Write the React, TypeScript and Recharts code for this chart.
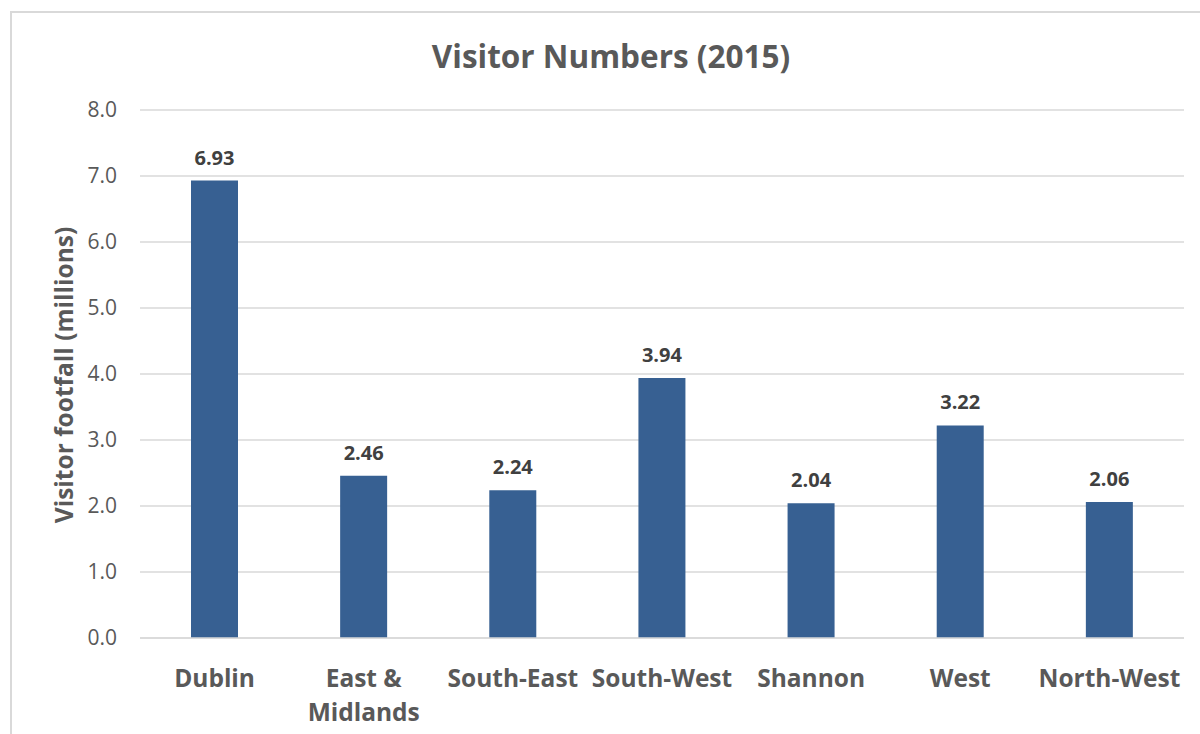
import { BarChart, Bar, XAxis, YAxis, CartesianGrid, LabelList } from "recharts";

const regions = ["Dublin", "East & Midlands", "South-East", "South-West", "Shannon", "West", "North-West"];
const visitors = [6.93, 2.46, 2.24, 3.94, 2.04, 3.22, 2.06];
const yTicks = [0, 1, 2, 3, 4, 5, 6, 7, 8];

// multi-line labels for the category axis
const tickLines: Record<string, string[]> = {
  "East & Midlands": ["East &", "Midlands"],
};

const data = regions.map((region, i) => ({ region, value: visitors[i] }));

const FONT = "'Open Sans', sans-serif";

function RegionTick(props: any) {
  const { x, y, payload } = props;
  const lines = tickLines[payload.value] || [payload.value];
  return (
    <text x={x} y={y} textAnchor="middle" fill="#595959" fontSize={24.5} fontWeight={700} fontFamily={FONT}>
      {lines.map((line, i) => (
        <tspan key={i} x={x} dy={i === 0 ? 41 : 34}>
          {line}
        </tspan>
      ))}
    </text>
  );
}

export default function App() {
  return (
    <div style={{ position: "relative", width: 1200, height: 734, overflow: "hidden", background: "#fff", fontFamily: FONT }}>
      <style>{"body{margin:0}"}</style>
      <div
        style={{
          position: "absolute",
          left: 10,
          top: 11,
          width: 1250,
          height: 800,
          border: "2px solid #d9d9d9",
          boxSizing: "border-box",
        }}
      />
      <div
        style={{
          position: "absolute",
          left: 0,
          width: 1222,
          top: 34,
          textAlign: "center",
          fontSize: 31.5,
          fontWeight: 700,
          color: "#595959",
        }}
      >
        Visitor Numbers (2015)
      </div>
      <div
        style={{
          position: "absolute",
          left: 63,
          top: 375,
          transform: "translate(-50%, -50%) rotate(-90deg)",
          whiteSpace: "nowrap",
          fontSize: 24.5,
          fontWeight: 700,
          color: "#595959",
        }}
      >
        Visitor footfall (millions)
      </div>
      <div style={{ position: "absolute", left: 0, top: 0 }}>
        <BarChart width={1200} height={734} data={data} margin={{ top: 110, right: 16, bottom: 0, left: 0 }}>
          <CartesianGrid vertical={false} stroke="#d9d9d9" strokeWidth={1.5} />
          <XAxis
            dataKey="region"
            height={96}
            axisLine={{ stroke: "#d9d9d9", strokeWidth: 1.5 }}
            tickLine={false}
            interval={0}
            tick={<RegionTick />}
          />
          <YAxis
            width={140}
            domain={[0, 8]}
            ticks={yTicks}
            axisLine={false}
            tickLine={false}
            tickSize={0}
            tickMargin={23}
            tickFormatter={(v: number) => v.toFixed(1)}
            tick={{ fill: "#595959", fontSize: 21, fontFamily: FONT }}
          />
          <Bar dataKey="value" fill="#376092" barSize={47} isAnimationActive={false}>
            <LabelList
              dataKey="value"
              position="top"
              offset={16}
              formatter={(v: any) => Number(v).toFixed(2)}
              style={{ fill: "#404040", fontSize: 20, fontWeight: 700, fontFamily: FONT }}
            />
          </Bar>
        </BarChart>
      </div>
    </div>
  );
}
